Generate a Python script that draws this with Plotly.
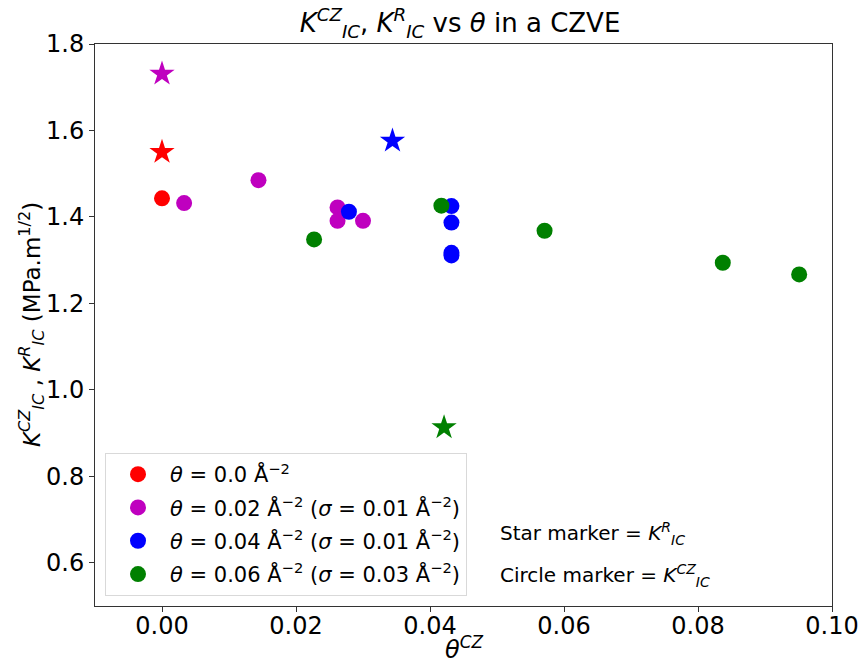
import plotly.graph_objects as go

# Data
theta_labels = ["0.0", "0.02", "0.04", "0.06"]
sigma_labels = [None, "0.01", "0.01", "0.03"]
colors = ["red", "#BF00BF", "blue", "green"]

# Circle markers: K_IC^CZ
cz_x = [
    [0.0],
    [0.0033, 0.0144, 0.0262, 0.0262, 0.0300],
    [0.0279, 0.0432, 0.0432, 0.0432, 0.0432],
    [0.0227, 0.0417, 0.0571, 0.0837, 0.0951],
]
cz_y = [
    [1.443],
    [1.432, 1.485, 1.422, 1.391, 1.391],
    [1.412, 1.425, 1.387, 1.317, 1.311],
    [1.348, 1.426, 1.368, 1.294, 1.267],
]

# Star markers: K_IC^R
r_x = [[0.0], [0.0], [0.0344], [0.0421]]
r_y = [[1.550], [1.731], [1.576], [0.913]]

FONT = "DejaVu Sans"
L, R, T, B = 95, 30, 44, 59
PW, PH = 862 - L - R, 665 - T - B

fig = go.Figure()
for i in range(4):
    name = f"<i>θ</i> = {theta_labels[i]} Å<sup>−2</sup>"
    if sigma_labels[i]:
        name += f" (<i>σ</i> = {sigma_labels[i]} Å<sup>−2</sup>)"
    fig.add_trace(go.Scatter(
        x=cz_x[i], y=cz_y[i], mode="markers", name=name,
        legendgroup=f"g{i}",
        marker=dict(symbol="circle", size=16, color=colors[i]),
    ))
for i in range(4):
    fig.add_trace(go.Scatter(
        x=r_x[i], y=r_y[i], mode="markers", showlegend=False,
        legendgroup=f"s{i}",
        marker=dict(symbol="star", size=19, color=colors[i]),
    ))

fig.update_layout(
    width=862, height=665,
    margin=dict(l=L, r=R, t=T, b=B, autoexpand=False),
    paper_bgcolor="white", plot_bgcolor="white",
    font=dict(family=FONT, size=24, color="black"),
    title=dict(
        text="<i>K</i><sup><i>CZ</i></sup><sub><i>IC</i></sub>, <i>K</i><sup><i>R</i></sup><sub><i>IC</i></sub> vs <i>θ</i> in a CZVE",
        x=460 / 862, xanchor="center", y=1 - 23 / 665, yanchor="middle",
        font=dict(family=FONT, size=26),
    ),
    showlegend=True,
    legend=dict(
        x=(105 - L) / PW, y=(665 - B - 596) / PH, xanchor="left", yanchor="bottom",
        bgcolor="rgba(255,255,255,0.8)", bordercolor="#d9d9d9", borderwidth=1,
        font=dict(family=FONT, size=21),
        itemwidth=54, traceorder="grouped", tracegroupgap=3,
    ),
)

fig.update_xaxes(
    range=[-0.01, 0.10], tickvals=[0.0, 0.02, 0.04, 0.06, 0.08, 0.10],
    tickformat=".2f", showgrid=False, zeroline=False, automargin=False,
    showline=True, linecolor="#333", linewidth=1, mirror=True,
    ticks="outside", ticklen=5, tickcolor="#333", ticklabelstandoff=-7,
    tickfont=dict(family=FONT, size=24),
)
fig.update_yaxes(
    range=[0.5, 1.8], tickvals=[0.6, 0.8, 1.0, 1.2, 1.4, 1.6, 1.8],
    tickformat=".1f", showgrid=False, zeroline=False, automargin=False,
    showline=True, linecolor="#333", linewidth=1, mirror=True,
    ticks="outside", ticklen=5, tickcolor="#333",
    tickfont=dict(family=FONT, size=24),
)

# Axis titles
fig.add_annotation(
    xref="paper", yref="paper", x=0.5, y=-(648 - (665 - B)) / PH,
    xanchor="center", yanchor="middle", showarrow=False,
    text="<i>θ</i><sup><i>CZ</i></sup>", font=dict(family=FONT, size=24),
)
fig.add_annotation(
    xref="paper", yref="paper", x=-(L - 31) / PW, y=0.5,
    xanchor="center", yanchor="middle", showarrow=False, textangle=-90,
    text="<i>K</i><sup><i>CZ</i></sup><sub><i>IC</i></sub> , <i>K</i><sup><i>R</i></sup><sub><i>IC</i></sub> (MPa.m<sup>1/2</sup>)",
    font=dict(family=FONT, size=23),
)

fig.add_annotation(
    xref="paper", yref="paper", x=(498 - L) / PW, y=(665 - B - 533) / PH,
    xanchor="left", yanchor="middle", showarrow=False,
    text="Star marker = <i>K</i><sup><i>R</i></sup><sub><i>IC</i></sub>",
    font=dict(family=FONT, size=20),
)
fig.add_annotation(
    xref="paper", yref="paper", x=(498 - L) / PW, y=(665 - B - 575) / PH,
    xanchor="left", yanchor="middle", showarrow=False,
    text="Circle marker = <i>K</i><sup><i>CZ</i></sup><sub><i>IC</i></sub>",
    font=dict(family=FONT, size=20),
)

fig.write_html(
    "out.html",
    config={"displayModeBar": False},
    post_script="document.body.style.margin='0';document.body.style.overflow='hidden';",
)
